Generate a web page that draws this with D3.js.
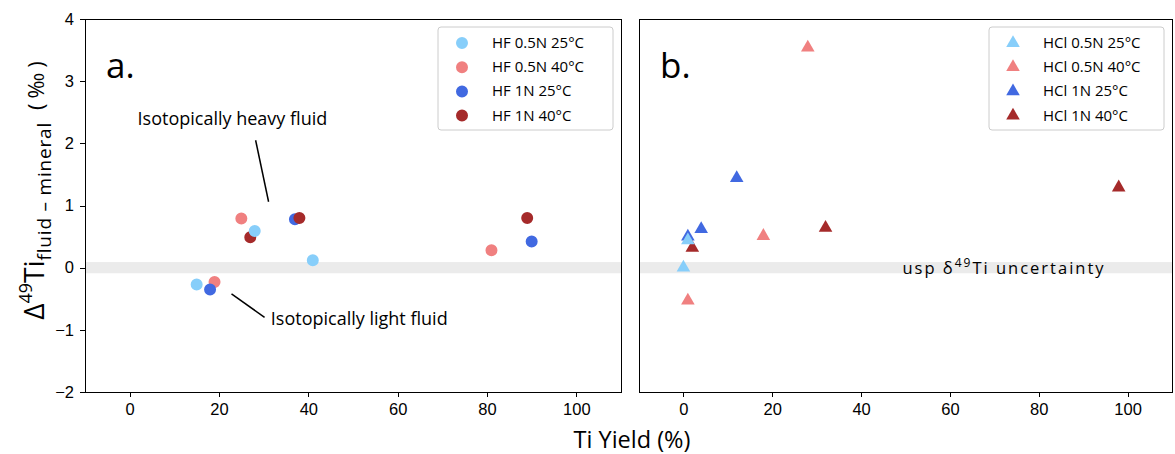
<!DOCTYPE html>
<html lang="en">
<head>
<meta charset="UTF-8">
<title>Ti isotope fractionation</title>
<script src="https://d3js.org/d3.v7.min.js"></script>
<style>
    body { margin: 0; background: white; }
    svg { font-family: "Open Sans", sans-serif; }
    .axis path, .axis line { stroke: #000; shape-rendering: crispEdges; }
    .axis text { font-size: 16.5px; fill: #000; }
</style>
</head>
<body>
<svg></svg>
<script>
    // tick values
    var xTicks = [0, 20, 40, 60, 80, 100];
    var yTicks = [-2, -1, 0, 1, 2, 3, 4];

    // series names (draw order) and values [Ti yield %, Δ49Ti ‰]
    var hfNames = ["HF 0.5N 25°C", "HF 0.5N 40°C", "HF 1N 25°C", "HF 1N 40°C"];
    var hclNames = ["HCl 0.5N 25°C", "HCl 0.5N 40°C", "HCl 1N 25°C", "HCl 1N 40°C"];

    var hf05n25 = [[15, -0.27], [28, 0.59], [41, 0.12]];
    var hf05n40 = [[19, -0.23], [25, 0.79], [81, 0.28]];
    var hf1n25 = [[18, -0.35], [37, 0.78], [90, 0.42]];
    var hf1n40 = [[27, 0.49], [38, 0.80], [89, 0.80]];

    var hcl05n25 = [[0, 0.0], [1, 0.44]];
    var hcl05n40 = [[1, -0.53], [18, 0.51], [28, 3.54]];
    var hcl1n25 = [[1, 0.50], [4, 0.62], [12, 1.44]];
    var hcl1n40 = [[2, 0.32], [32, 0.64], [98, 1.29]];

    var uspBand = [-0.09, 0.09];

    var colors = ["#87cefa", "#f08080", "#4169e1", "#a52a2a"];
    var drawOrder = [1, 2, 3, 0];

    var w = 1175, h = 454;
    var svg = d3.select("svg").attr("width", w).attr("height", h);

    var plotTop = 19, plotBottom = 392;
    var y = d3.scaleLinear().domain([-2, 4]).range([plotBottom, plotTop]);

    function panel(left, right, series, names, symbol, letter, showY) {
        var x = d3.scaleLinear().domain([-10, 110]).range([left, right]);
        var g = svg.append("g");
        var size = symbol === d3.symbolCircle ? 113 : 80;

        // uncertainty band
        g.append("rect")
            .attr("x", left).attr("width", right - left)
            .attr("y", y(uspBand[1])).attr("height", y(uspBand[0]) - y(uspBand[1]))
            .attr("fill", "#ebebeb");

        g.append("g").attr("class", "axis")
            .attr("transform", "translate(0," + plotBottom + ")")
            .call(d3.axisBottom(x).tickValues(xTicks).tickSize(5).tickPadding(6))
            .call(s => s.select(".domain").remove());

        if (showY) {
            g.append("g").attr("class", "axis")
                .attr("transform", "translate(" + left + ",0)")
                .call(d3.axisLeft(y).tickValues(yTicks).tickSize(5).tickPadding(6)
                    .tickFormat(d => d < 0 ? "\u2212" + Math.abs(d) : d))
                .call(s => s.select(".domain").remove());
        }

        drawOrder.forEach(function (k) {
            g.selectAll(null).data(series[k]).enter().append("path")
                .attr("d", d3.symbol().type(symbol).size(size))
                .attr("transform", d => "translate(" + x(d[0]) + "," + y(d[1]) + ")")
                .attr("fill", colors[k]);
        });

        // frame
        g.append("rect")
            .attr("x", left).attr("y", plotTop)
            .attr("width", right - left).attr("height", plotBottom - plotTop)
            .attr("fill", "none").attr("stroke", "#000").attr("stroke-width", 1)
            .attr("shape-rendering", "crispEdges");

        g.append("text").attr("x", left + 21).attr("y", 78)
            .attr("font-size", 35).text(letter);

        // legend
        var lw = 175, lx = right - 8 - lw, ly = 27;
        g.append("rect").attr("x", lx).attr("y", ly).attr("width", lw).attr("height", 103)
            .attr("rx", 3).attr("fill", "white").attr("stroke", "#cccccc");
        names.forEach(function (n, i) {
            var yy = ly + 16 + i * 24.2;
            g.append("path")
                .attr("d", d3.symbol().type(symbol).size(size))
                .attr("transform", "translate(" + (lx + 24) + "," + yy + ")")
                .attr("fill", colors[i]);
            g.append("text").attr("x", lx + 54).attr("y", yy + 5)
                .attr("font-size", 15).text(n);
        });
        return x;
    }

    var xa = panel(85, 621, [hf05n25, hf05n40, hf1n25, hf1n40], hfNames, d3.symbolCircle, "a.", true);
    var xb = panel(639, 1172, [hcl05n25, hcl05n40, hcl1n25, hcl1n40], hclNames, d3.symbolTriangle, "b.", false);

    // annotations in panel a
    svg.append("text").attr("x", xa(23)).attr("y", y(2.39) + 6)
        .attr("text-anchor", "middle").attr("font-size", 18).text("Isotopically heavy fluid");
    svg.append("line").attr("x1", xa(28.2)).attr("y1", y(2.05)).attr("x2", xa(31.1)).attr("y2", y(1.06))
        .attr("stroke", "#000").attr("stroke-width", 1.5);
    svg.append("line").attr("x1", xa(22.8)).attr("y1", y(-0.42)).attr("x2", xa(30.2)).attr("y2", y(-0.80))
        .attr("stroke", "#000").attr("stroke-width", 1.5);
    svg.append("text").attr("x", xa(31.6)).attr("y", y(-0.83) + 6)
        .attr("font-size", 18).text("Isotopically light fluid");

    // band label in panel b
    var bandLabel = svg.append("text").attr("x", 1004).attr("y", y(0) + 6)
        .attr("text-anchor", "middle").attr("font-size", 16.5).attr("letter-spacing", 2);
    bandLabel.append("tspan").text("usp \u03b4");
    bandLabel.append("tspan").attr("dy", -7).attr("font-size", 12).text("49");
    bandLabel.append("tspan").attr("dy", 7).text("Ti uncertainty");

    // axis titles
    svg.append("text").attr("x", 632).attr("y", 448).attr("text-anchor", "middle")
        .attr("font-size", 23.5).text("Ti Yield (%)");

    var yl = svg.append("text").attr("transform", "translate(44,188) rotate(-90)")
        .attr("text-anchor", "middle").attr("font-size", 28);
    yl.append("tspan").text("\u0394");
    yl.append("tspan").attr("dy", -12).attr("font-size", 18).text("49");
    yl.append("tspan").attr("dy", 12).text("Ti");
    yl.append("tspan").attr("dy", 7).attr("font-size", 19).attr("letter-spacing", 0.8).text("fluid \u2013 mineral");
    yl.append("tspan").attr("dy", -7).attr("dx", 12).attr("font-size", 22).attr("letter-spacing", 5).text("(\u2030)");
</script>
</body>
</html>
